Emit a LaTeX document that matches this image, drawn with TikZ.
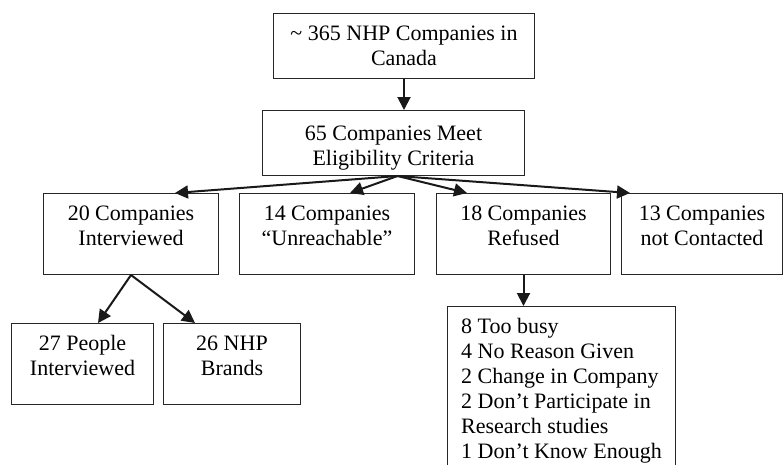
\documentclass[tikz,border=0pt]{standalone}
\usepackage{fontspec}
\setmainfont{Liberation Serif}
\usetikzlibrary{arrows.meta,calc}
\begin{document}
\begin{tikzpicture}[x=1pt,y=-1pt,
  box/.style={draw=black!85,line width=1pt,inner sep=0pt,anchor=north west,font=\fontsize{22}{25}\selectfont},
  conn/.style={line width=2pt,black!90,-{Triangle[length=13pt,width=13pt]}}]
\useasboundingbox (0,0) rectangle (784,464);
\newcommand{\bx}[3]{\parbox[t][#1pt][t]{#2pt}{\centering\rule{0pt}{27pt}#3}}
\node[box] (top) at (273,13) {\bx{65}{261}{\textasciitilde\ 365 NHP Companies in\\Canada}};
\node[box] (mid) at (262,110) {\bx{65}{262}{\rule{0pt}{30pt}65 Companies Meet\\Eligibility Criteria}};
\node[box] (b1) at (43,193) {\bx{81}{175}{20 Companies\\Interviewed}};
\node[box] (b2) at (239,193) {\bx{81}{175}{14 Companies\\“Unreachable”}};
\node[box] (b3) at (436,193) {\bx{81}{174}{18 Companies\\Refused}};
\node[box] (b4) at (621,193) {\bx{81}{161}{13 Companies\\not Contacted}};
\node[box] (c1) at (11,323) {\bx{81}{142}{27 People\\Interviewed}};
\node[box] (c2) at (163,323) {\bx{81}{137}{26 NHP\\Brands}};
\draw[draw=black!85,line width=1pt] (447,470) -- (447,306) coordinate (r0) -- (675,306) coordinate (r1) -- (675,470);
\node[anchor=north west,inner sep=0pt,font=\fontsize{22}{25}\selectfont,align=left] (reasons) at (461,306) {\rule{0pt}{27pt}8 Too busy\\4 No Reason Given\\2 Change in Company\\2 Don’t Participate in\\Research studies\\1 Don’t Know Enough};
\draw[conn] (top.south) -- (top.south |- mid.north);
\coordinate (o) at ($(mid.south)+(4,0)$);
\draw[conn] (o) -- ($(b1.north west)+(132,0)$);
\draw[conn] (o) -- ($(b2.north west)+(111,0)$);
\draw[conn] (o) -- ($(b3.north west)+(31,0)$);
\draw[conn] (o) -- ($(b4.north west)+(9,0)$);
\draw[conn] (b1.south) -- ($(c1.north west)+(87,0)$);
\draw[conn] (b1.south) -- ($(c2.north west)+(32,0)$);
\draw[conn] (b3.south) -- (b3.south |- r0);
\end{tikzpicture}
\end{document}
